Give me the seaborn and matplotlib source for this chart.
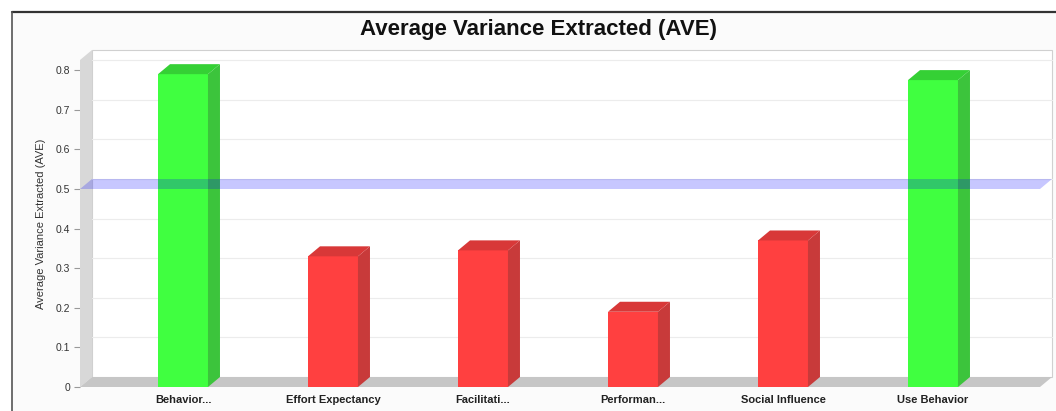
import matplotlib
matplotlib.use("Agg")
import matplotlib.pyplot as plt
import matplotlib.patches as mpatches
from matplotlib.lines import Line2D
import seaborn as sns
import pandas as pd

# Construct labels, AVE scores and the 0.5 threshold
categories = ["Behavior...", "Effort Expectancy", "Facilitati...", "Performan...",
              "Social Influence", "Use Behavior"]
ave_values = [0.79, 0.33, 0.345, 0.19, 0.37, 0.775]
threshold = 0.5
y_ticks = [0, 0.1, 0.2, 0.3, 0.4, 0.5, 0.6, 0.7, 0.8]

GREEN = ("#40ff40", "#3cc43c", "#35d035")   # front, side, top
RED = ("#ff4040", "#c83a3a", "#d83838")

W, H, DPI = 1056, 411, 100
DX, DY = 12, 10          # depth of the pseudo-3D effect, pixels

sns.set_theme(style="white")
plt.rcParams["font.family"] = ["Liberation Sans", "DejaVu Sans"]

fig = plt.figure(figsize=(W / DPI, H / DPI), dpi=DPI)
fig.patch.set_facecolor("white")

# outer panel frame
fig.patches.append(mpatches.Rectangle((12 / W, 0), 1, 1 - 12 / H, transform=fig.transFigure,
                                      facecolor="#fbfbfb", edgecolor="none", zorder=-10))
fig.lines.append(Line2D([12 / W, 1], [1 - 12 / H, 1 - 12 / H], transform=fig.transFigure,
                        color="#333333", lw=1.6))
fig.lines.append(Line2D([12 / W, 12 / W], [0, 1 - 12 / H], transform=fig.transFigure,
                        color="#555555", lw=1.2))

left, right, top, bottom = 80, 1040, 60, 387
ax = fig.add_axes([left / W, (H - bottom) / H, (right - left) / W, (bottom - top) / H])
ax.set_facecolor("none")

df = pd.DataFrame({"construct": categories, "ave": ave_values})
df["status"] = ["ok" if v >= threshold else "low" for v in ave_values]
sns.barplot(data=df, x="construct", y="ave", hue="status",
            palette={"ok": GREEN[0], "low": RED[0]}, dodge=False, width=0.333,
            legend=False, saturation=1, ax=ax, zorder=3, edgecolor="none")

xmin, xmax = -103 / 150, (right - 183) / 150
ymax = (bottom - top) / 396
ax.set_xlim(xmin, xmax)
ax.set_ylim(0, ymax)

# depth offset in data units
inv = ax.transData.inverted()
p0 = inv.transform(ax.transData.transform((0, 0)))
p1 = inv.transform(ax.transData.transform((0, 0)) + [DX, DY])
dx, dy = p1 - p0

def poly(pts, **kw):
    ax.add_patch(mpatches.Polygon(pts, closed=True, clip_on=False, **kw))

# back wall, left wall and floor
poly([(xmin + dx, dy), (xmax + dx, dy), (xmax + dx, ymax + dy), (xmin + dx, ymax + dy)],
     facecolor="white", edgecolor="#d0d0d0", lw=0.8, zorder=0)
poly([(xmin, 0), (xmin, ymax), (xmin + dx, ymax + dy), (xmin + dx, dy)],
     facecolor="#d8d8d8", edgecolor="none", zorder=1)
poly([(xmin, 0), (xmax, 0), (xmax + dx, dy), (xmin + dx, dy)],
     facecolor="#c6c6c6", edgecolor="none", zorder=1)
for t in y_ticks[1:]:
    ax.plot([xmin + dx, xmax + dx], [t + dy, t + dy], color="#ececec", lw=0.8,
            zorder=0.5, clip_on=False)

# side and top faces of each bar (bars sorted by position)
bars = sorted([p for p in ax.patches if isinstance(p, mpatches.Rectangle)
               and p.get_height() > 0], key=lambda p: p.get_x())
for patch in bars:
    x0 = patch.get_x()
    x1 = x0 + patch.get_width()
    h = patch.get_height()
    cols = GREEN if h >= threshold else RED
    poly([(x1, 0), (x1 + dx, dy), (x1 + dx, h + dy), (x1, h)],
         facecolor=cols[1], edgecolor="none", zorder=3)
    poly([(x0, h), (x1, h), (x1 + dx, h + dy), (x0 + dx, h + dy)],
         facecolor=cols[2], edgecolor="none", zorder=3)

# threshold plane at 0.5
poly([(xmin, threshold), (xmax, threshold), (xmax + dx, threshold + dy),
      (xmin + dx, threshold + dy)], facecolor="#0000ff", alpha=0.22,
     edgecolor="none", zorder=5)

for s in ax.spines.values():
    s.set_visible(False)
ax.set_yticks(y_ticks)
ax.set_yticklabels([f"{t:g}" for t in y_ticks])
ax.tick_params(axis="y", left=True, length=4, width=0.8, color="#999999",
               labelsize=7.5, labelcolor="#333333", pad=3)
ax.tick_params(axis="x", bottom=False, length=0, labelsize=8, labelcolor="#222222", pad=6)
for lbl in ax.get_xticklabels():
    lbl.set_fontweight("bold")
ax.set_xlabel("")
ax.set_ylabel("Average Variance Extracted (AVE)", fontsize=8, color="#333333", labelpad=7)

fig.text(538 / W, 1 - 29 / H, "Average Variance Extracted (AVE)", ha="center", va="center",
         fontsize=16, fontweight="bold", color="#111111")

fig.savefig("out.png", dpi=DPI)
